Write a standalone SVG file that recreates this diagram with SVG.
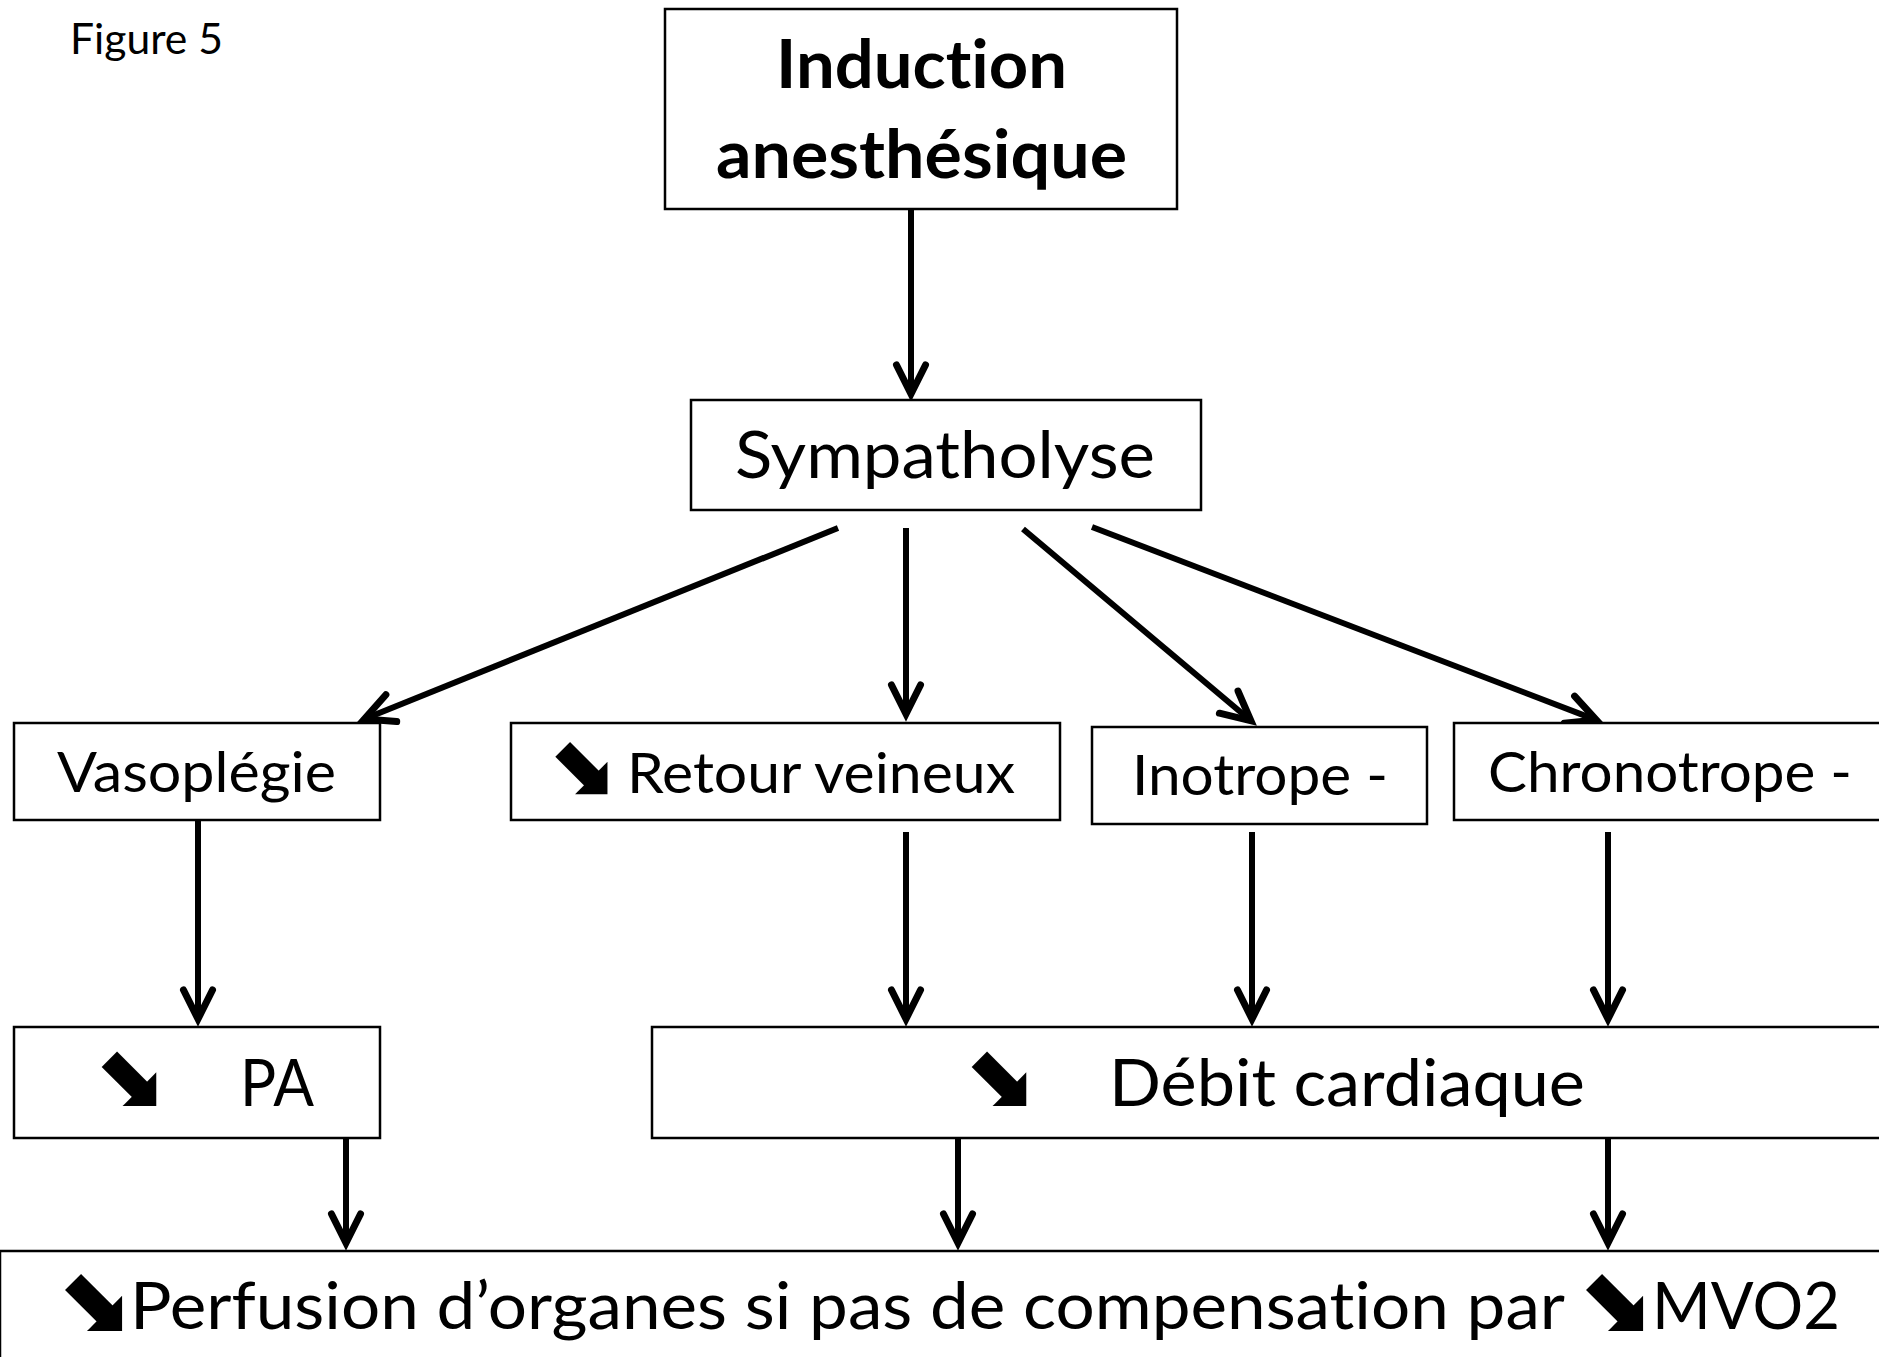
<svg xmlns="http://www.w3.org/2000/svg" width="1879" height="1357" viewBox="0 0 1879 1357">
<defs>
<style>
.box{fill:#fff;stroke:#000;stroke-width:2.5}
.t{font-family:Lato,"Open Sans","Liberation Sans",sans-serif;fill:#000;font-variant-ligatures:none}
.b{font-weight:bold}
.sym{font-family:"DejaVu Sans",sans-serif;fill:#000;stroke:#000;stroke-width:2.5;stroke-linejoin:miter}
.c{fill:none;stroke:#000;stroke-width:6}
</style>
<marker id="ah" markerUnits="userSpaceOnUse" markerWidth="48" markerHeight="40" refX="36" refY="20" orient="auto" viewBox="0 0 48 40">
<path d="M7,5.5 L36,20 L7,34.5" fill="none" stroke="#000" stroke-width="7" stroke-linecap="round" stroke-linejoin="miter" stroke-miterlimit="6"/>
</marker>
</defs>
<rect width="1879" height="1357" fill="#fff"/>
<g id="title"><text class="t" x="70" y="54" font-size="42" textLength="153" lengthAdjust="spacingAndGlyphs">Figure 5</text></g>
<g id="connectors">
<line class="c" x1="911" y1="209" x2="911" y2="394" marker-end="url(#ah)"/>
<line class="c" x1="838" y1="528" x2="364.4" y2="719" marker-end="url(#ah)"/>
<line class="c" x1="906" y1="528" x2="906" y2="714" marker-end="url(#ah)"/>
<line class="c" x1="1023" y1="529" x2="1250.9" y2="720.8" marker-end="url(#ah)"/>
<line class="c" x1="1092" y1="527" x2="1596.5" y2="720.1" marker-end="url(#ah)"/>
<line class="c" x1="198" y1="821" x2="198" y2="1019" marker-end="url(#ah)"/>
<line class="c" x1="906" y1="832" x2="906" y2="1019" marker-end="url(#ah)"/>
<line class="c" x1="1252" y1="832" x2="1252" y2="1019" marker-end="url(#ah)"/>
<line class="c" x1="1608" y1="832" x2="1608" y2="1019" marker-end="url(#ah)"/>
<line class="c" x1="346" y1="1138" x2="346" y2="1243" marker-end="url(#ah)"/>
<line class="c" x1="958" y1="1138" x2="958" y2="1243" marker-end="url(#ah)"/>
<line class="c" x1="1608" y1="1138" x2="1608" y2="1243" marker-end="url(#ah)"/>
</g>
<g id="induction">
<rect class="box" x="665" y="9" width="512" height="200"/>
<text class="t b" x="776" y="88" font-size="66" textLength="291" lengthAdjust="spacingAndGlyphs">Induction</text>
<text class="t b" x="716" y="178" font-size="66" textLength="411" lengthAdjust="spacingAndGlyphs">anesthésique</text>
</g>
<g id="sympatholyse">
<rect class="box" x="691" y="400" width="510" height="110"/>
<text class="t" x="735" y="478" font-size="66" textLength="420" lengthAdjust="spacingAndGlyphs">Sympatholyse</text>
</g>
<g id="vasoplegie">
<rect class="box" x="14" y="723" width="366" height="97"/>
<text class="t" x="57" y="792" font-size="56" textLength="279" lengthAdjust="spacingAndGlyphs">Vasoplégie</text>
</g>
<g id="retour">
<rect class="box" x="511" y="723" width="549" height="97"/>
<text class="sym" x="550" y="795" font-size="80">⬊</text>
<text class="t" x="627" y="793" font-size="56" textLength="388" lengthAdjust="spacingAndGlyphs">Retour veineux</text>
</g>
<g id="inotrope">
<rect class="box" x="1092" y="727" width="335" height="97"/>
<text class="t" x="1132" y="795" font-size="56" textLength="256" lengthAdjust="spacingAndGlyphs">Inotrope -</text>
</g>
<g id="chronotrope">
<rect class="box" x="1454" y="723" width="440" height="97"/>
<text class="t" x="1488" y="792" font-size="56" textLength="364" lengthAdjust="spacingAndGlyphs">Chronotrope -</text>
</g>
<g id="pa">
<rect class="box" x="14" y="1027" width="366" height="111"/>
<text class="sym" x="96" y="1107" font-size="84">⬊</text>
<text class="t" x="240" y="1106" font-size="66" textLength="74" lengthAdjust="spacingAndGlyphs">PA</text>
</g>
<g id="debit">
<rect class="box" x="652" y="1027" width="1240" height="111"/>
<text class="sym" x="966" y="1107" font-size="84">⬊</text>
<text class="t" x="1109" y="1106" font-size="66" textLength="476" lengthAdjust="spacingAndGlyphs">Débit cardiaque</text>
</g>
<g id="perfusion">
<rect class="box" x="0" y="1251" width="1892" height="120"/>
<text class="sym" x="59" y="1332" font-size="88">⬊</text>
<text class="t" x="130" y="1329" font-size="66" textLength="1435" lengthAdjust="spacingAndGlyphs">Perfusion d’organes si pas de compensation par</text>
<text class="sym" x="1580" y="1332" font-size="88">⬊</text>
<text class="t" x="1652" y="1329" font-size="66" textLength="188" lengthAdjust="spacingAndGlyphs">MVO2</text>
</g>
</svg>
